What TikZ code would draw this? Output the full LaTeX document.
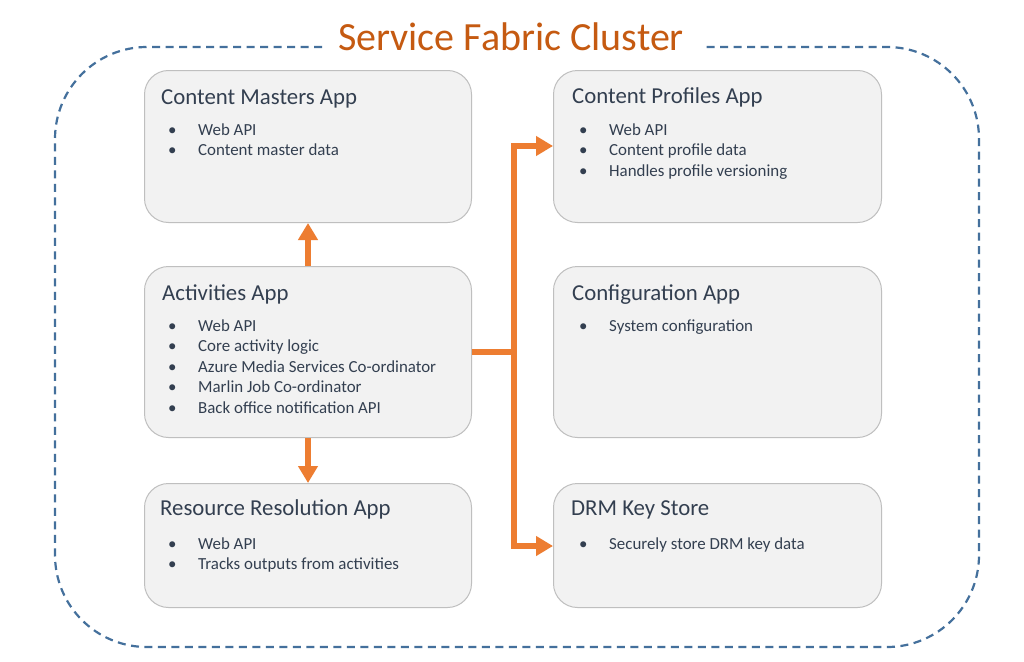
\documentclass[tikz,border=0pt]{standalone}
\usepackage{fontspec}
\setmainfont{Carlito}
\usetikzlibrary{arrows.meta}
\definecolor{txt}{HTML}{333F50}
\definecolor{boxfill}{HTML}{F2F2F2}
\definecolor{boxline}{HTML}{BFBFBF}
\definecolor{orangeA}{HTML}{ED7D31}
\definecolor{titleor}{HTML}{C55A11}
\definecolor{clusterblue}{HTML}{44709C}
\tikzset{
  appbox/.style={draw=boxline, line width=1pt, fill=boxfill, rounded corners=24pt, anchor=north west, inner sep=0pt},
  apptitle/.style={anchor=base west, inner sep=0pt, text=txt, font=\fontsize{22.8}{26}\selectfont},
  bul/.style={anchor=base west, inner sep=0pt, text=txt, font=\fontsize{16.9}{19}\selectfont},
  conn/.style={draw=orangeA, line width=6pt, line join=miter},
  arr/.style={conn, -{Triangle[width=19pt,length=17pt]}},
  cluster/.style={draw=clusterblue, line width=2.2pt, dash pattern=on 8pt off 5.5pt, rounded corners=92pt},
}
\newcommand{\appitems}[4]{% name, x, y of first baseline, list
  \foreach \t [count=\i from 0] in {#4} {
    \node[bul] at (#2+7,#3+20.6*\i) {•};
    \node[bul] at (#2+37,#3+20.6*\i) {\t};
  }
}
\begin{document}
\begin{tikzpicture}[x=1pt,y=-1pt]
\useasboundingbox (0,0) rectangle (1024,661);
\fill[white] (0,0) rectangle (1024,661);
% cluster border
\coordinate (gapL) at (322,47);
\coordinate (gapR) at (703,47);
\draw[cluster] (gapL) -- (55,47) -- (55,647) -- (979,647) -- (979,47) -- (gapR);
\node[anchor=base, inner sep=0pt, text=titleor, font=\fontsize{40}{44}\selectfont] (clustertitle) at (511,50) {Service Fabric Cluster};
% boxes
\node[appbox, minimum width=327pt, minimum height=152pt] (cm) at (144,70) {};
\node[appbox, minimum width=328pt, minimum height=152pt] (cp) at (553,70) {};
\node[appbox, minimum width=327pt, minimum height=171pt] (act) at (144,266) {};
\node[appbox, minimum width=328pt, minimum height=171pt] (cfg) at (553,266) {};
\node[appbox, minimum width=327pt, minimum height=124pt] (rr) at (144,483) {};
\node[appbox, minimum width=328pt, minimum height=124pt] (drm) at (553,483) {};
% titles
\node[apptitle] (cmT) at (161,104) {Content Masters App};
\node[apptitle] (cpT) at (572,103) {Content Profiles App};
\node[apptitle] (actT) at (162,300) {Activities App};
\node[apptitle] (cfgT) at (572,300) {Configuration App};
\node[apptitle] (rrT) at (160,515) {Resource Resolution App};
\node[apptitle] (drmT) at (571,515) {DRM Key Store};
% bullets
\appitems{cm}{161}{135}{Web API,Content master data}
\appitems{cp}{572}{135}{Web API,Content profile data,Handles profile versioning}
\appitems{act}{161}{331}{Web API,Core activity logic,Azure Media Services Co-ordinator,Marlin Job Co-ordinator,Back office notification API}
\appitems{cfg}{572}{331}{System configuration}
\appitems{rr}{161}{549}{Web API,Tracks outputs from activities}
\appitems{drm}{572}{549}{Securely store DRM key data}
% connectors
\coordinate (upS) at (act.north -| 308,0);
\coordinate (upE) at (cm.south -| 308,0);
\coordinate (dnS) at (act.south -| 308,0);
\coordinate (dnE) at (rr.north -| 308,0);
\draw[arr] (upS) -- (upE);
\draw[arr] (dnS) -- (dnE);
\coordinate (actR) at (act.east |- 0,352);
\coordinate (junc) at (514,352);
\coordinate (cpIn) at (cp.west |- 0,146);
\coordinate (drmIn) at (drm.west |- 0,546);
\draw[conn] (actR) -- (junc);
\draw[arr] (junc) |- (cpIn);
\draw[arr] (junc) |- (drmIn);
\end{tikzpicture}
\end{document}
